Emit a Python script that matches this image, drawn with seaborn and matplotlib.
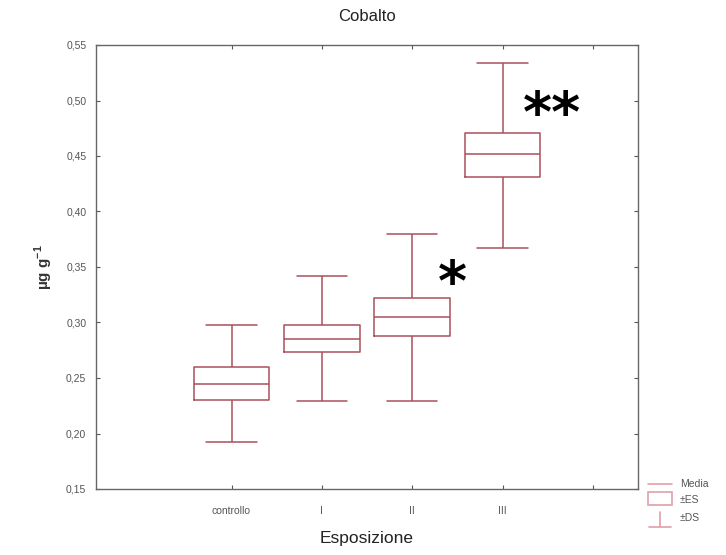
import matplotlib
matplotlib.use("Agg")
import matplotlib.pyplot as plt
import seaborn as sns
import pandas as pd
from matplotlib.lines import Line2D
from matplotlib.patches import Rectangle
from matplotlib.ticker import FuncFormatter, MultipleLocator

# Data: per group [min whisker (-DS), box low (-ES), media, box high (+ES), max whisker (+DS)]
groups = ["controllo", "I", "II", "III"]
controllo = [0.192, 0.230, 0.245, 0.260, 0.298]
gruppo_I = [0.229, 0.273, 0.285, 0.298, 0.342]
gruppo_II = [0.229, 0.288, 0.305, 0.322, 0.380]
gruppo_III = [0.367, 0.431, 0.452, 0.471, 0.534]
tick_labels = ["controllo", "I", "II", "III", ""]
significance = {"II": "*", "III": "**"}

rows = []
for g, vals in zip(groups, [controllo, gruppo_I, gruppo_II, gruppo_III]):
    for v in vals:
        rows.append({"Esposizione": g, "valore": v})
df = pd.DataFrame(rows)

sns.set_theme(style="white")
plt.rcParams["font.family"] = ["Liberation Sans", "DejaVu Sans"]

W, H = 726, 555
fig = plt.figure(figsize=(W / 100, H / 100), dpi=100)
ax = fig.add_axes([96 / W, 1 - 489 / H, (638 - 96) / W, (489 - 45) / H])

box_color = "#a9505c"
sns.boxplot(data=df, x="Esposizione", y="valore", order=tick_labels,
            whis=(0, 100), width=0.84, fill=False, color=box_color,
            linecolor=box_color, linewidth=1.1, capwidths=0.56, ax=ax,
            showfliers=False)

ax.set_xlim(-1.5, 4.5)
ax.set_ylim(0.15, 0.55)
ax.yaxis.set_major_locator(MultipleLocator(0.05))
ax.yaxis.set_major_formatter(FuncFormatter(lambda v, p: f"{v:.2f}".replace(".", ",")))
ax.set_xticks(range(5))
ax.set_xticklabels(tick_labels)
ax.tick_params(direction="in", length=3, width=0.8, color="#555555",
               labelsize=7.5, labelcolor="#555555", top=True, right=True,
               bottom=True, left=True)
ax.tick_params(axis="x", pad=12)
ax.tick_params(axis="y", pad=7)
for sp in ax.spines.values():
    sp.set_color("#666666")
    sp.set_linewidth(1.0)

ax.set_title("Cobalto", fontsize=12, color="#222222", pad=17)
ax.set_xlabel("Esposizione", fontsize=12.5, color="#222222", labelpad=11)
ax.set_ylabel("µg g$^{\\mathregular{-1}}$", fontsize=11, fontweight="bold",
              color="#333333", labelpad=8)

pos = {g: i for i, g in enumerate(tick_labels)}
ax.text(pos["III"] + 0.55, 0.486, significance["III"], fontsize=40, ha="center",
        va="center", color="black", family="DejaVu Sans", fontweight="bold")
ax.text(pos["II"] + 0.45, 0.334, significance["II"], fontsize=40, ha="center",
        va="center", color="black", family="DejaVu Sans", fontweight="bold")

# Legend (outside axes, bottom right)
leg_color = "#e0a0aa"
def fx(x):
    return x / W
def fy(y):
    return 1 - y / H
fig.add_artist(Line2D([fx(648), fx(672)], [fy(484), fy(484)], color=leg_color, lw=1.2))
fig.add_artist(Rectangle((fx(648), fy(505)), fx(24), 13 / H, fill=False,
                         edgecolor=leg_color, lw=1.2))
fig.add_artist(Line2D([fx(660), fx(660)], [fy(512), fy(527)], color=leg_color, lw=1.2))
fig.add_artist(Line2D([fx(649), fx(671)], [fy(527), fy(527)], color=leg_color, lw=1.2))
fig.text(fx(680), fy(484), "Media", fontsize=7.5, color="#555555", va="center")
fig.text(fx(680), fy(500), "±ES", fontsize=7.5, color="#555555", va="center")
fig.text(fx(680), fy(518), "±DS", fontsize=7.5, color="#555555", va="center")

fig.savefig("out.png", dpi=100)
